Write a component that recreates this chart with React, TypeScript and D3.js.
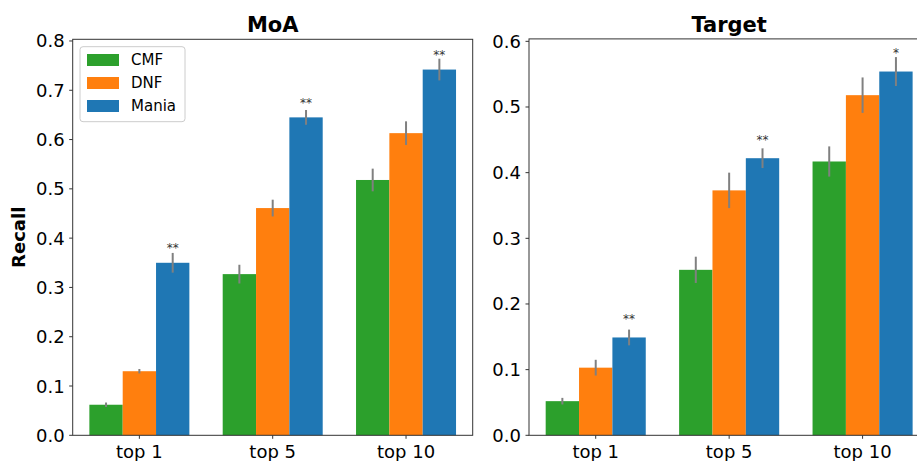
import React from "react";
import * as d3 from "d3";

const categories = ["top 1", "top 5", "top 10"];
const seriesNames = ["CMF", "DNF", "Mania"];
const seriesColors = ["#2ca02c", "#ff7f0e", "#1f77b4"];

// MoA panel
const moaCMF = [0.062, 0.327, 0.518];
const moaDNF = [0.130, 0.461, 0.613];
const moaMania = [0.350, 0.645, 0.742];
const moaCMFErr = [0.0045, 0.019, 0.023];
const moaDNFErr = [0.0045, 0.017, 0.024];
const moaManiaErr = [0.020, 0.015, 0.022];
const moaStars = ["**", "**", "**"];
const moaTicks = [0, 0.1, 0.2, 0.3, 0.4, 0.5, 0.6, 0.7, 0.8];

// Target panel
const tgtCMF = [0.052, 0.252, 0.417];
const tgtDNF = [0.103, 0.373, 0.518];
const tgtMania = [0.149, 0.422, 0.554];
const tgtCMFErr = [0.005, 0.020, 0.023];
const tgtDNFErr = [0.012, 0.027, 0.027];
const tgtManiaErr = [0.012, 0.015, 0.022];
const tgtStars = ["**", "**", "*"];
const tgtTicks = [0, 0.1, 0.2, 0.3, 0.4, 0.5, 0.6];

const FONT = "DejaVu Sans, sans-serif";

type PanelProps = {
  title: string;
  x0: number;
  x1: number;
  yTop: number;
  yBottom: number;
  yMax: number;
  values: number[][];
  errs: number[][];
  stars: string[];
  ticks: number[];
  legend?: boolean;
  ylabel?: string;
};

function Panel(p: PanelProps) {
  const x = d3.scaleLinear().domain([-0.5, categories.length - 0.5]).range([p.x0, p.x1]);
  const y = d3.scaleLinear().domain([0, p.yMax]).range([p.yBottom, p.yTop]);
  const bw = (x(1) - x(0)) * 0.25;
  const fmt = d3.format(".1f");
  const nS = p.values.length;
  return (
    <g>
      {p.values.map((vals, s) =>
        vals.map((v, i) => {
          const cx = x(i) + (s - (nS - 1) / 2) * bw;
          return (
            <rect
              key={`b${s}-${i}`}
              x={cx - bw / 2}
              y={y(v)}
              width={bw}
              height={y(0) - y(v)}
              fill={seriesColors[s]}
            />
          );
        })
      )}
      {p.values.map((vals, s) =>
        vals.map((v, i) => {
          const cx = x(i) + (s - (nS - 1) / 2) * bw;
          const e = p.errs[s][i];
          return (
            <line
              key={`e${s}-${i}`}
              x1={cx}
              x2={cx}
              y1={y(v - e)}
              y2={y(v + e)}
              stroke="#808080"
              strokeWidth={2}
            />
          );
        })
      )}
      {p.stars.map((st, i) => {
        const s = nS - 1;
        const cx = x(i) + (s - (nS - 1) / 2) * bw;
        return (
          <text
            key={`s${i}`}
            x={cx}
            y={y(p.values[s][i] + 0.022)}
            textAnchor="middle"
            fontSize={12}
            fontFamily={FONT}
            fill="#333"
          >
            {st}
          </text>
        );
      })}
      <rect
        x={p.x0}
        y={p.yTop}
        width={p.x1 - p.x0}
        height={p.yBottom - p.yTop}
        fill="none"
        stroke="#333"
        strokeWidth={1}
      />
      {p.ticks.map((t) => (
        <g key={`yt${t}`}>
          <line x1={p.x0 - 3.5} x2={p.x0} y1={y(t)} y2={y(t)} stroke="#333" strokeWidth={1} />
          <text
            x={p.x0 - 8}
            y={y(t)}
            textAnchor="end"
            dominantBaseline="central"
            fontSize={18}
            fontFamily={FONT}
            fill="#000"
          >
            {fmt(t)}
          </text>
        </g>
      ))}
      {categories.map((c, i) => (
        <g key={`xt${i}`}>
          <line x1={x(i)} x2={x(i)} y1={p.yBottom} y2={p.yBottom + 3.5} stroke="#333" strokeWidth={1} />
          <text
            x={x(i)}
            y={p.yBottom + 23}
            textAnchor="middle"
            fontSize={18}
            fontFamily={FONT}
            fill="#000"
          >
            {c}
          </text>
        </g>
      ))}
      <text
        x={(p.x0 + p.x1) / 2}
        y={31.5}
        textAnchor="middle"
        fontSize={21}
        fontWeight="bold"
        fontFamily={FONT}
        fill="#000"
      >
        {p.title}
      </text>
      {p.ylabel && (
        <text
          transform={`translate(25,${(p.yTop + p.yBottom) / 2}) rotate(-90)`}
          textAnchor="middle"
          fontSize={18}
          fontWeight="bold"
          fontFamily={FONT}
          fill="#000"
        >
          {p.ylabel}
        </text>
      )}
      {p.legend && (
        <g>
          <rect x={80} y={46.7} width={105} height={75} rx={3} fill="#fff" fillOpacity={0.8} stroke="#ccc" strokeWidth={1} />
          {seriesNames.map((n, s) => (
            <g key={`l${s}`}>
              <rect x={87} y={54 + s * 23 } width={32} height={12} fill={seriesColors[s]} />
              <text
                x={131}
                y={60 + s * 23}
                dominantBaseline="central"
                fontSize={15}
                fontFamily={FONT}
                fill="#000"
              >
                {n}
              </text>
            </g>
          ))}
        </g>
      )}
    </g>
  );
}

export default function App() {
  return (
    <svg
      width={917}
      height={461}
      style={{ position: "absolute", left: 0, top: 0, background: "#fff" }}
    >
      <rect x={0} y={0} width={917} height={461} fill="#fff" />
      <Panel
        title="MoA"
        x0={72.7}
        x1={472.7}
        yTop={39.3}
        yBottom={435.3}
        yMax={0.8034}
        values={[moaCMF, moaDNF, moaMania]}
        errs={[moaCMFErr, moaDNFErr, moaManiaErr]}
        stars={moaStars}
        ticks={moaTicks}
        legend
        ylabel="Recall"
      />
      <Panel
        title="Target"
        x0={529}
        x1={929.3}
        yTop={38.9}
        yBottom={435.3}
        yMax={0.6037}
        values={[tgtCMF, tgtDNF, tgtMania]}
        errs={[tgtCMFErr, tgtDNFErr, tgtManiaErr]}
        stars={tgtStars}
        ticks={tgtTicks}
      />
    </svg>
  );
}
